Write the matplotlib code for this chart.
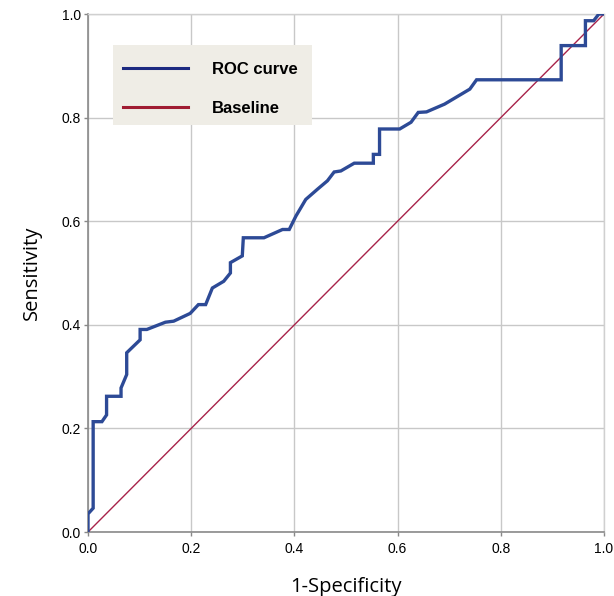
import matplotlib
matplotlib.use("Agg")
import matplotlib.pyplot as plt
from matplotlib.lines import Line2D
from matplotlib.patches import Rectangle

fpr = [0, 0, 0.010, 0.010, 0.027, 0.036, 0.036, 0.064, 0.064, 0.075, 0.075, 0.101, 0.101,
       0.114, 0.150, 0.166, 0.198, 0.214, 0.228, 0.241, 0.263, 0.276, 0.276, 0.299, 0.301,
       0.341, 0.377, 0.390, 0.403, 0.422, 0.445, 0.464, 0.477, 0.490, 0.516, 0.553, 0.553,
       0.565, 0.565, 0.604, 0.626, 0.640, 0.656, 0.691, 0.740, 0.753, 0.917, 0.917, 0.964,
       0.964, 0.980, 0.990, 1.0]
tpr = [0, 0.035, 0.046, 0.213, 0.213, 0.226, 0.262, 0.262, 0.278, 0.304, 0.346, 0.371, 0.391,
       0.391, 0.405, 0.407, 0.422, 0.439, 0.439, 0.471, 0.484, 0.500, 0.520, 0.533, 0.568,
       0.568, 0.584, 0.584, 0.610, 0.642, 0.662, 0.678, 0.695, 0.697, 0.712, 0.712, 0.729,
       0.729, 0.778, 0.778, 0.791, 0.810, 0.811, 0.826, 0.855, 0.873, 0.873, 0.939, 0.939,
       0.987, 0.987, 1.0, 1.0]
baseline = [0.0, 1.0]
ticks = [0.0, 0.2, 0.4, 0.6, 0.8, 1.0]
tick_labels = ["0.0", "0.2", "0.4", "0.6", "0.8", "1.0"]
series_names = ["ROC curve", "Baseline"]

roc_color = "#2d4a96"
base_color = "#a8234a"

fig = plt.figure(figsize=(6.14, 5.96), dpi=100)
ax = fig.add_axes([88/614, 1-532/596, 516/614, 518/596])

ax.grid(True, color="#c8c8c8", linewidth=1.0)
ax.set_axisbelow(True)
ax.plot(baseline, baseline, color=base_color, linewidth=1.0, zorder=3)
ax.plot(fpr, tpr, color=roc_color, linewidth=2.4, solid_joinstyle="miter", zorder=4)

ax.set_xlim(0, 1)
ax.set_ylim(0, 1)
ax.set_xticks(ticks)
ax.set_yticks(ticks)
ax.set_xticklabels(tick_labels, fontfamily="Liberation Sans", fontsize=10)
ax.set_yticklabels(tick_labels, fontfamily="Liberation Sans", fontsize=10)
ax.tick_params(axis="both", length=3, width=1, color="#888888", pad=2)
ax.tick_params(axis="x", pad=4)

for s in ["left", "bottom"]:
    ax.spines[s].set_color("#8a8a8a")
    ax.spines[s].set_linewidth(1.2)
for s in ["top", "right"]:
    ax.spines[s].set_color("#d0d0d0")
    ax.spines[s].set_linewidth(1.0)

ax.set_xlabel("1-Specificity", fontfamily="Open Sans", fontsize=14.5, labelpad=15)
ax.set_ylabel("Sensitivity", fontfamily="Open Sans", fontsize=14.5, labelpad=14)

# legend background box
ax.add_patch(Rectangle((25/516, 407/518), 199/516, 80/518, transform=ax.transAxes,
                       facecolor="#efede6", edgecolor="none", zorder=5))

handles = [Line2D([0], [0], color="#1c2a80", linewidth=2.2),
           Line2D([0], [0], color="#a01c32", linewidth=2.2)]
leg = ax.legend(handles, series_names, loc="center left",
                bbox_to_anchor=(35/516, (0.892 + 0.819) / 2),
                prop={"family": "Liberation Sans", "weight": "bold", "size": 12},
                frameon=False, handlelength=3.9, handletextpad=1.45, labelspacing=1.45,
                borderpad=0.0, borderaxespad=0.0)
leg.set_zorder(6)

fig.savefig("out.png", dpi=100, facecolor="white")
